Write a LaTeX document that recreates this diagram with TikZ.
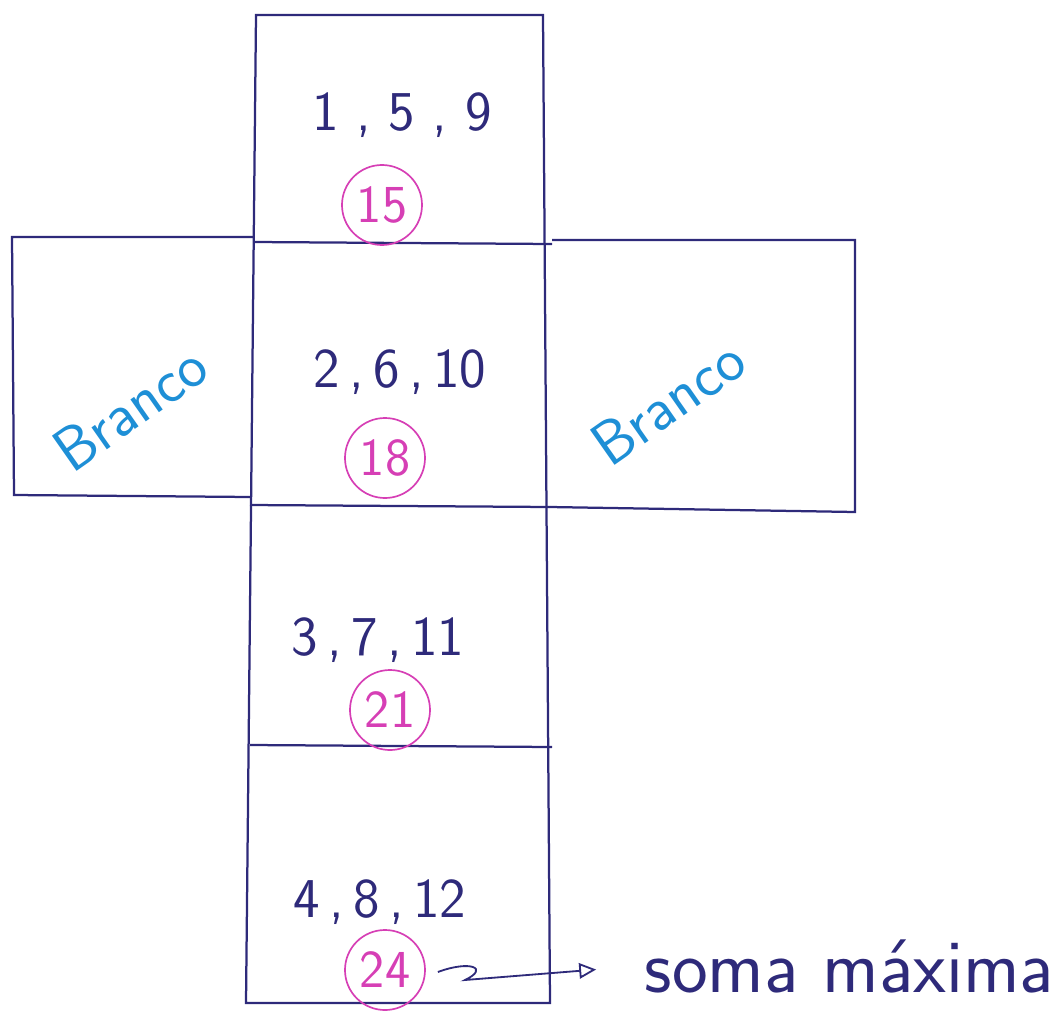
\documentclass[tikz,border=0pt]{standalone}
\usepackage{tikz}
\usepackage{xcolor}
\usetikzlibrary{arrows.meta}
\definecolor{ink}{HTML}{2E2A7A}
\definecolor{pinkink}{HTML}{D63FB5}
\definecolor{blueink}{HTML}{1E8FD6}
\tikzset{
  facetext/.style={text=ink,font=\sffamily\fontsize{40}{44}\selectfont},
  sumring/.style={circle,draw=pinkink,line width=1.2pt,text=pinkink,minimum size=2cm,inner sep=0pt,font=\sffamily\fontsize{38}{42}\selectfont},
  blank/.style={text=blueink,rotate=35,font=\sffamily\fontsize{44}{48}\selectfont}
}
\begin{document}
\begin{tikzpicture}[x=0.025cm,y=-0.025cm]
\useasboundingbox (0,0) rectangle (1060,1013);
% central column
\draw[ink,line width=1.6pt] (256,15) -- (543,15) -- (550,1003) -- (246,1003) -- cycle;
\draw[ink,line width=1.6pt] (254,242) -- (552,244);
\draw[ink,line width=1.6pt] (250,505) -- (550,507);
\draw[ink,line width=1.6pt] (250,745) -- (552,747);
% side flaps
\draw[ink,line width=1.6pt] (254,237) -- (12,237) -- (14,495) -- (250,497);
\draw[ink,line width=1.6pt] (552,240) -- (855,240) -- (855,512) -- (550,507);
% faces
\node[facetext] (f1) at (402,115) {1 , 5 , 9};
\node[sumring] (s1) at (382,205) {15};
\node[facetext] (f2) at (400,372) {2\,,\,6\,,\,10};
\node[sumring] (s2) at (385,458) {18};
\node[facetext] (f3) at (378,640) {3\,,\,7\,,\,11};
\node[sumring] (s3) at (390,710) {21};
\node[facetext] (f4) at (380,902) {4\,,\,8\,,\,12};
\node[sumring] (s4) at (385,970) {24};
\node[blank] (b1) at (130,408) {Branco};
\node[blank] (b2) at (668,402) {Branco};
% label
\node[text=ink,font=\sffamily\fontsize{54}{58}\selectfont,anchor=west] (max) at (640,966) {soma máxima};
\draw[ink,line width=1.3pt,shorten >=1.1cm,-{Triangle[open,length=12pt,width=11pt]}] (s4.east) ++(12,2) .. controls (470,960) and (490,968) .. (465,980) -- (max.west);
\end{tikzpicture}
\end{document}
